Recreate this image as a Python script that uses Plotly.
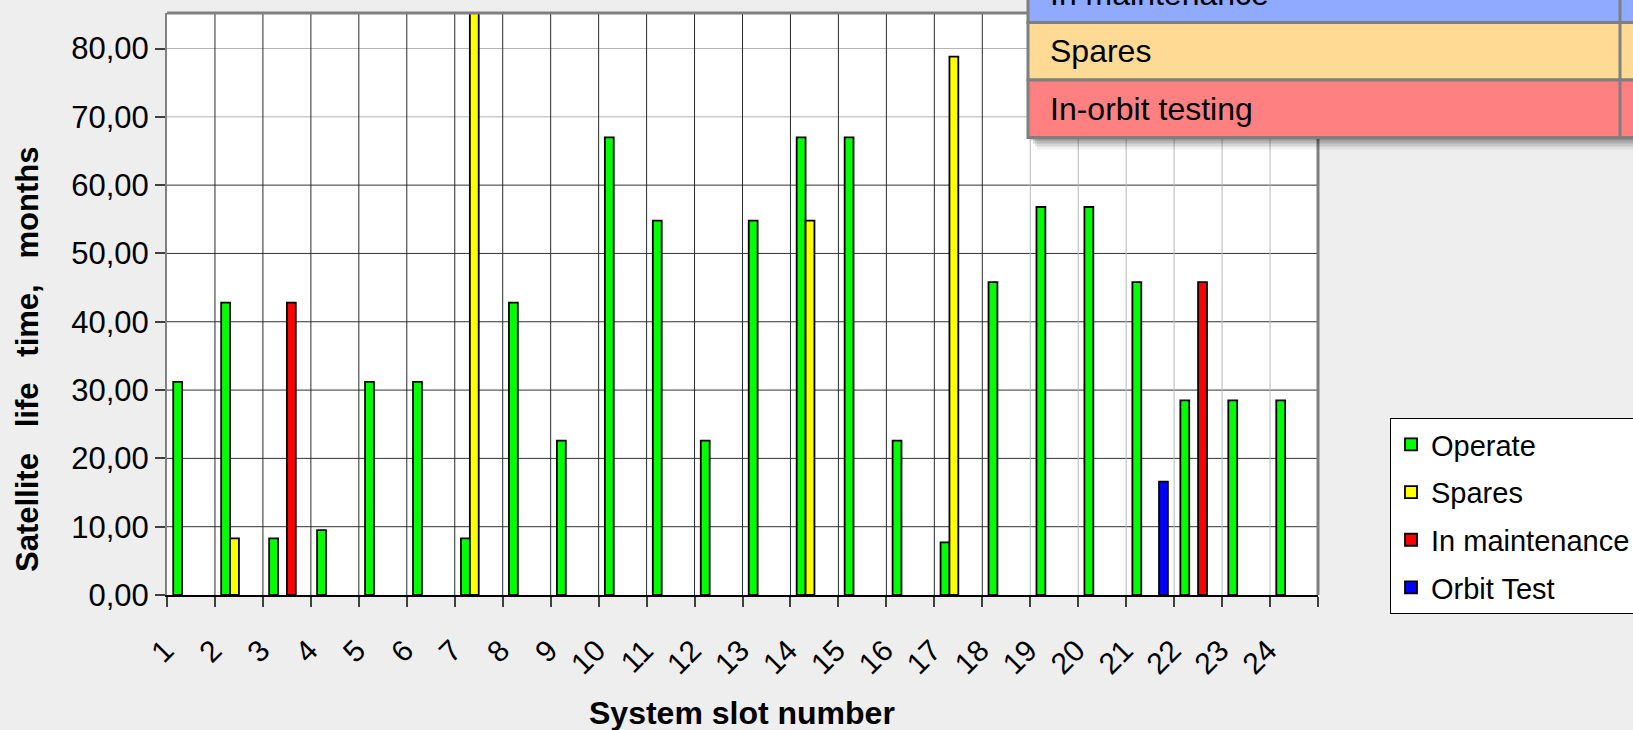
import plotly.graph_objects as go

# ---------------- data ----------------
slots = list(range(1, 25))
slot_labels = [str(s) for s in slots]
series_names = ["Operate", "Spares", "In maintenance", "Orbit Test"]
series_colors = ["#00FF00", "#FFFF00", "#FF0000", "#0000FF"]

operate = [31.2, 42.8, 8.3, 9.5, 31.2, 31.2, 8.3, 42.8, 22.6, 67.0, 54.8, 22.6,
           54.8, 67.0, 67.0, 22.6, 7.7, 45.8, 56.8, 56.8, 45.8, 28.5, 28.5, 28.5]
spares = [None, 8.3, None, None, None, None, 92.0, None, None, None, None, None,
          None, 54.8, None, None, 78.8, None, None, None, None, None, None, None]
maintenance = [None, None, 42.8, None, None, None, None, None, None, None, None, None,
               None, None, None, None, None, None, None, None, None, 45.8, None, None]
orbit_test = [None, None, None, None, None, None, None, None, None, None, None, None,
              None, None, None, None, None, None, None, None, 16.6, None, None, None]
series_values = [operate, spares, maintenance, orbit_test]

y_ticks = [0, 10, 20, 30, 40, 50, 60, 70, 80]
table_rows = ["In maintenance", "Spares", "In-orbit testing"]
table_colors = ["#8FAAFF", "#FFDA95", "#FF8080"]

# ---------------- layout geometry ----------------
W, H = 1633, 730
L, R, T, B = 167, 1318, 13, 595
Y_MAX = 85.2
FONT = "Liberation Sans, Arial, sans-serif"


def px(xpix):
    return (xpix - L) / (R - L)


def py(ypix):
    return (B - ypix) / (B - T)


fig = go.Figure()
for name, color, vals in zip(series_names, series_colors, series_values):
    fig.add_trace(go.Bar(
        x=slots, y=vals, name=name, legendgroup=name,
        marker=dict(color=color, line=dict(color="#000000", width=1.8)),
    ))

shapes = []
# gridlines (horizontal)
for v in y_ticks[1:]:
    shapes.append(dict(type="line", xref="paper", yref="y", x0=0, x1=1, y0=v, y1=v,
                       line=dict(color="#B4B4B4" if v >= 70 else "#333333", width=1),
                       layer="below"))
# gridlines (vertical, category boundaries)
for i in range(1, len(slots)):
    xb = slots[i - 1] + 0.5
    shapes.append(dict(type="line", xref="x", yref="paper", x0=xb, x1=xb, y0=0, y1=1,
                       line=dict(color="#B8B8B8" if xb >= 18.5 else "#2A2A2A", width=1),
                       layer="below"))
# plot frame top and right
shapes.append(dict(type="line", xref="paper", yref="paper", x0=0, x1=1, y0=1, y1=1,
                   line=dict(color="#808080", width=3)))
shapes.append(dict(type="line", xref="paper", yref="paper", x0=1, x1=1, y0=0, y1=1,
                   line=dict(color="#808080", width=3)))

# overlay table (shadow + rows)
row_edges = [-35, 22.5, 80, 137.5]
tx0, tx1, tdiv = 1028, 1700, 1620
for dx, dy, op in [(3, 3, 0.18), (5, 6, 0.14), (7, 9, 0.10), (9, 12, 0.06)]:
    shapes.append(dict(type="rect", xref="paper", yref="paper",
                       x0=px(tx0 + dx), x1=px(tx1 + dx), y0=py(row_edges[-1] + dy), y1=py(row_edges[0] + dy),
                       fillcolor="#000000", opacity=op, line=dict(width=0)))
annotations = []
for i, (txt, col) in enumerate(zip(table_rows, table_colors)):
    y0p, y1p = row_edges[i], row_edges[i + 1]
    shapes.append(dict(type="rect", xref="paper", yref="paper",
                       x0=px(tx0), x1=px(tx1), y0=py(y1p), y1=py(y0p),
                       fillcolor=col, line=dict(color="#7F7F7F", width=3)))
    annotations.append(dict(xref="paper", yref="paper", x=px(1048), y=py((y0p + y1p) / 2),
                            text=txt, showarrow=False, xanchor="left", yanchor="middle",
                            font=dict(family=FONT, size=32, color="#000000")))
shapes.append(dict(type="line", xref="paper", yref="paper", x0=px(tdiv), x1=px(tdiv),
                   y0=py(row_edges[-1]), y1=py(row_edges[0]), line=dict(color="#7F7F7F", width=3)))

# axis titles
annotations.append(dict(xref="paper", yref="paper", x=px(742), y=py(713),
                        text="System slot number", showarrow=False,
                        xanchor="center", yanchor="middle",
                        font=dict(family=FONT, size=32, color="#000000", weight="bold")))
annotations.append(dict(xref="paper", yref="paper", x=px(27), y=py(360),
                        text="Satellite\u00a0\u00a0 life\u00a0\u00a0 time,\u00a0\u00a0 months",
                        textangle=-90, showarrow=False, xanchor="center", yanchor="middle",
                        font=dict(family=FONT, size=31, color="#000000", weight="bold")))

fig.update_layout(
    width=W, height=H,
    margin=dict(l=L, r=W - R, t=T, b=H - B, autoexpand=False),
    paper_bgcolor="#EEEEEE", plot_bgcolor="#FFFFFF",
    barmode="group", bargap=0.26, bargroupgap=0,
    separators=", ",
    font=dict(family=FONT, color="#000000"),
    xaxis=dict(range=[0.5, 24.5], tickmode="array",
               tickvals=slots, ticktext=slot_labels,
               tickangle=-45, ticks="", showgrid=False, zeroline=False,
               showline=True, linecolor="#000000", linewidth=1.5,
               tickfont=dict(family=FONT, size=30, color="#000000"),
               ticklabelstandoff=24, ticklabelshift=-26,
               minor=dict(tickmode="linear", tick0=0.5, dtick=1, ticks="outside",
                          ticklen=10, tickcolor="#404040", tickwidth=1.5, showgrid=False)),
    yaxis=dict(range=[0, Y_MAX], tickmode="array", tickvals=y_ticks, tickformat=".2f",
               ticks="outside", ticklen=10, tickcolor="#404040", tickwidth=1.5,
               showgrid=False, zeroline=False,
               showline=True, linecolor="#808080", linewidth=2,
               tickfont=dict(family=FONT, size=31, color="#000000")),
    legend=dict(x=px(1390), y=py(418), xanchor="left", yanchor="top",
                bgcolor="#FFFFFF", bordercolor="#000000", borderwidth=1,
                font=dict(family=FONT, size=29, color="#000000"),
                entrywidth=260, entrywidthmode="pixels",
                traceorder="grouped", tracegroupgap=7),
    shapes=shapes, annotations=annotations,
)

fig.write_html("out.html", config={"displayModeBar": False},
               post_script="document.body.style.margin='0';")
